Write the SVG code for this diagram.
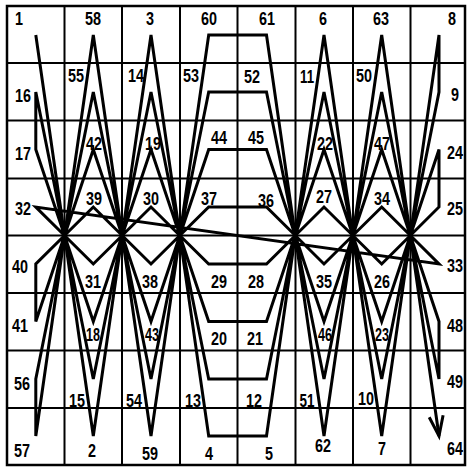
<svg xmlns="http://www.w3.org/2000/svg" width="467" height="468" viewBox="0 0 467 468">
<style>
.grid{stroke:#000;stroke-width:2;fill:none}
.border{stroke:#000;stroke-width:2.5;fill:none}
.path{stroke:#000;stroke-width:3;fill:none;stroke-linejoin:miter;stroke-miterlimit:4}
text{font-family:"Liberation Sans",Arial,sans-serif;font-weight:bold;font-size:19px;text-anchor:middle;fill:#000}
</style>
<defs>
<marker id="arrow" markerUnits="userSpaceOnUse" viewBox="-24 -10 28 20" markerWidth="28" markerHeight="20" refX="0" refY="0" orient="auto" overflow="visible">
<path d="M-20,-7 L0,0 L-20,7" fill="none" stroke="#000" stroke-width="3" stroke-linejoin="miter"/>
</marker>
</defs>
<rect width="467" height="468" fill="#fff"/>
<g id="grid">
<line class="grid" x1="64.5" y1="6" x2="64.5" y2="465"/>
<line class="grid" x1="122" y1="6" x2="122" y2="465"/>
<line class="grid" x1="180" y1="6" x2="180" y2="465"/>
<line class="grid" x1="237.5" y1="6" x2="237.5" y2="465"/>
<line class="grid" x1="295.5" y1="6" x2="295.5" y2="465"/>
<line class="grid" x1="353" y1="6" x2="353" y2="465"/>
<line class="grid" x1="410.5" y1="6" x2="410.5" y2="465"/>
<line class="grid" x1="7" y1="63" x2="465" y2="63"/>
<line class="grid" x1="7" y1="120.5" x2="465" y2="120.5"/>
<line class="grid" x1="7" y1="178.5" x2="465" y2="178.5"/>
<line class="grid" x1="7" y1="235.5" x2="465" y2="235.5"/>
<line class="grid" x1="7" y1="293" x2="465" y2="293"/>
<line class="grid" x1="7" y1="350.5" x2="465" y2="350.5"/>
<line class="grid" x1="7" y1="408" x2="465" y2="408"/>
<rect class="border" x="7" y="6" width="458" height="459"/>
</g>
<g id="connectors">
<path class="path" marker-end="url(#arrow)" d="M35.8,35 L93.3,436 L151,35 L208.7,436 L266.5,436 L324,35 L381.7,436 L439,35 L439,92 L381.7,379 L324,92 L266.5,379 L208.7,379 L151,92 L93.3,379 L35.8,92 L35.8,149.5 L93.3,321.5 L151,149.5 L208.7,321.5 L266.5,321.5 L324,149.5 L381.7,321.5 L439,149.5 L439,207 L381.7,264 L324,207 L266.5,264 L208.7,264 L151,207 L93.3,264 L35.8,207 L439,264 L381.7,207 L324,264 L266.5,207 L208.7,207 L151,264 L93.3,207 L35.8,264 L35.8,321.5 L93.3,149.5 L151,321.5 L208.7,149.5 L266.5,149.5 L324,321.5 L381.7,149.5 L439,321.5 L439,379 L381.7,92 L324,379 L266.5,92 L208.7,92 L151,379 L93.3,92 L35.8,379 L35.8,436 L93.3,35 L151,436 L208.7,35 L266.5,35 L324,436 L381.7,35 L439,436"/>
</g>
<g id="labels">
<g id="n1"><text x="19" y="25" textLength="8" lengthAdjust="spacingAndGlyphs">1</text></g>
<g id="n58"><text x="93" y="25" textLength="16" lengthAdjust="spacingAndGlyphs">58</text></g>
<g id="n3"><text x="150" y="25" textLength="8" lengthAdjust="spacingAndGlyphs">3</text></g>
<g id="n60"><text x="209" y="25" textLength="16" lengthAdjust="spacingAndGlyphs">60</text></g>
<g id="n61"><text x="267" y="25" textLength="16" lengthAdjust="spacingAndGlyphs">61</text></g>
<g id="n6"><text x="323" y="25" textLength="8" lengthAdjust="spacingAndGlyphs">6</text></g>
<g id="n63"><text x="381" y="25" textLength="16" lengthAdjust="spacingAndGlyphs">63</text></g>
<g id="n8"><text x="452" y="25" textLength="8" lengthAdjust="spacingAndGlyphs">8</text></g>

<g id="n16"><text x="23" y="102" textLength="16" lengthAdjust="spacingAndGlyphs">16</text></g>
<g id="n55"><text x="76" y="82" textLength="16" lengthAdjust="spacingAndGlyphs">55</text></g>
<g id="n14"><text x="136" y="82" textLength="16" lengthAdjust="spacingAndGlyphs">14</text></g>
<g id="n53"><text x="191" y="82" textLength="16" lengthAdjust="spacingAndGlyphs">53</text></g>
<g id="n52"><text x="252" y="83" textLength="16" lengthAdjust="spacingAndGlyphs">52</text></g>
<g id="n11"><text x="307" y="83" textLength="14" lengthAdjust="spacingAndGlyphs">11</text></g>
<g id="n50"><text x="364" y="82" textLength="16" lengthAdjust="spacingAndGlyphs">50</text></g>
<g id="n9"><text x="455" y="101" textLength="8" lengthAdjust="spacingAndGlyphs">9</text></g>

<g id="n17"><text x="23" y="160" textLength="16" lengthAdjust="spacingAndGlyphs">17</text></g>
<g id="n42"><text x="94" y="150" textLength="16" lengthAdjust="spacingAndGlyphs">42</text></g>
<g id="n19"><text x="153" y="150" textLength="16" lengthAdjust="spacingAndGlyphs">19</text></g>
<g id="n44"><text x="219" y="144" textLength="16" lengthAdjust="spacingAndGlyphs">44</text></g>
<g id="n45"><text x="256" y="144" textLength="16" lengthAdjust="spacingAndGlyphs">45</text></g>
<g id="n22"><text x="325" y="150" textLength="16" lengthAdjust="spacingAndGlyphs">22</text></g>
<g id="n47"><text x="382" y="150" textLength="16" lengthAdjust="spacingAndGlyphs">47</text></g>
<g id="n24"><text x="455" y="159" textLength="16" lengthAdjust="spacingAndGlyphs">24</text></g>

<g id="n32"><text x="23" y="215" textLength="16" lengthAdjust="spacingAndGlyphs">32</text></g>
<g id="n39"><text x="94" y="205" textLength="16" lengthAdjust="spacingAndGlyphs">39</text></g>
<g id="n30"><text x="151" y="205" textLength="16" lengthAdjust="spacingAndGlyphs">30</text></g>
<g id="n37"><text x="209" y="205" textLength="16" lengthAdjust="spacingAndGlyphs">37</text></g>
<g id="n36"><text x="266" y="207" textLength="16" lengthAdjust="spacingAndGlyphs">36</text></g>
<g id="n27"><text x="324" y="203" textLength="16" lengthAdjust="spacingAndGlyphs">27</text></g>
<g id="n34"><text x="382" y="205" textLength="16" lengthAdjust="spacingAndGlyphs">34</text></g>
<g id="n25"><text x="455" y="215" textLength="16" lengthAdjust="spacingAndGlyphs">25</text></g>

<g id="n40"><text x="20" y="273" textLength="16" lengthAdjust="spacingAndGlyphs">40</text></g>
<g id="n31"><text x="93" y="288" textLength="16" lengthAdjust="spacingAndGlyphs">31</text></g>
<g id="n38"><text x="150" y="288" textLength="16" lengthAdjust="spacingAndGlyphs">38</text></g>
<g id="n29"><text x="219" y="288" textLength="16" lengthAdjust="spacingAndGlyphs">29</text></g>
<g id="n28"><text x="256" y="288" textLength="16" lengthAdjust="spacingAndGlyphs">28</text></g>
<g id="n35"><text x="324" y="288" textLength="16" lengthAdjust="spacingAndGlyphs">35</text></g>
<g id="n26"><text x="382" y="288" textLength="16" lengthAdjust="spacingAndGlyphs">26</text></g>
<g id="n33"><text x="455" y="272" textLength="16" lengthAdjust="spacingAndGlyphs">33</text></g>

<g id="n41"><text x="20" y="332" textLength="16" lengthAdjust="spacingAndGlyphs">41</text></g>
<g id="n18"><text x="93" y="341" textLength="14" lengthAdjust="spacingAndGlyphs">18</text></g>
<g id="n43"><text x="152" y="341" textLength="14" lengthAdjust="spacingAndGlyphs">43</text></g>
<g id="n20"><text x="219" y="345" textLength="16" lengthAdjust="spacingAndGlyphs">20</text></g>
<g id="n21"><text x="255" y="345" textLength="16" lengthAdjust="spacingAndGlyphs">21</text></g>
<g id="n46"><text x="325" y="341" textLength="14" lengthAdjust="spacingAndGlyphs">46</text></g>
<g id="n23"><text x="382" y="341" textLength="14" lengthAdjust="spacingAndGlyphs">23</text></g>
<g id="n48"><text x="455" y="332" textLength="16" lengthAdjust="spacingAndGlyphs">48</text></g>

<g id="n56"><text x="22" y="390" textLength="16" lengthAdjust="spacingAndGlyphs">56</text></g>
<g id="n15"><text x="77" y="407" textLength="16" lengthAdjust="spacingAndGlyphs">15</text></g>
<g id="n54"><text x="134" y="407" textLength="16" lengthAdjust="spacingAndGlyphs">54</text></g>
<g id="n13"><text x="193" y="407" textLength="16" lengthAdjust="spacingAndGlyphs">13</text></g>
<g id="n12"><text x="254" y="407" textLength="16" lengthAdjust="spacingAndGlyphs">12</text></g>
<g id="n51"><text x="307" y="407" textLength="15" lengthAdjust="spacingAndGlyphs">51</text></g>
<g id="n10"><text x="366" y="405" textLength="16" lengthAdjust="spacingAndGlyphs">10</text></g>
<g id="n49"><text x="455" y="388" textLength="16" lengthAdjust="spacingAndGlyphs">49</text></g>

<g id="n57"><text x="22" y="457" textLength="16" lengthAdjust="spacingAndGlyphs">57</text></g>
<g id="n2"><text x="92" y="457" textLength="8" lengthAdjust="spacingAndGlyphs">2</text></g>
<g id="n59"><text x="150" y="460" textLength="16" lengthAdjust="spacingAndGlyphs">59</text></g>
<g id="n4"><text x="209" y="460" textLength="8" lengthAdjust="spacingAndGlyphs">4</text></g>
<g id="n5"><text x="269" y="460" textLength="8" lengthAdjust="spacingAndGlyphs">5</text></g>
<g id="n62"><text x="323" y="452" textLength="16" lengthAdjust="spacingAndGlyphs">62</text></g>
<g id="n7"><text x="382" y="455" textLength="8" lengthAdjust="spacingAndGlyphs">7</text></g>
<g id="n64"><text x="455" y="455" textLength="16" lengthAdjust="spacingAndGlyphs">64</text></g>
</g>
</svg>
